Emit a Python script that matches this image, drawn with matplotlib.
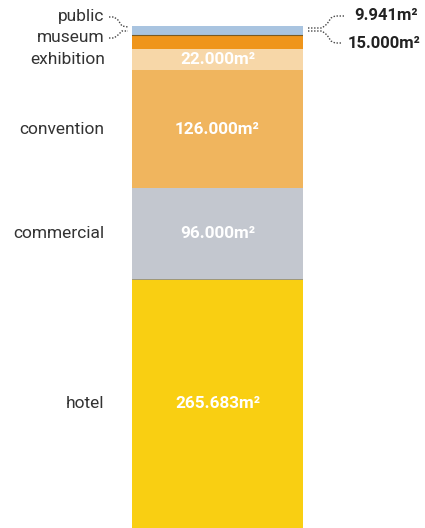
"""Stacked floor area column."""
import matplotlib.pyplot as plt

categories = ['hotel', 'commercial', 'convention', 'exhibition', 'museum', 'public']
areas = [265683, 96000, 126000, 22000, 15000, 9941]
area_labels = ['265.683m²', '96.000m²', '126.000m²', '22.000m²', '15.000m²', '9.941m²']
colors = ['#f9cf12', '#c3c7cf', '#f0b55e', '#f7d7a8', '#ef951b', '#a9c4e0']

plt.rcParams['font.family'] = ['Roboto', 'DejaVu Sans']

W, H = 425, 528
fig = plt.figure(figsize=(W / 100, H / 100), dpi=100)


def px(x, y):
    # pixel coords (from top-left) -> figure fraction
    return x / W, 1 - y / H


bar_top = 26
ax = fig.add_axes([132 / W, 0, (303 - 132) / W, (H - bar_top) / H])
total = sum(areas)
bottoms = []
b = 0
for a in areas:
    bottoms.append(b)
    b += a
ax.bar([0] * len(areas), areas, bottom=bottoms, width=1.0, color=colors,
       edgecolor='none', align='center')
# thin separators
ax.axhline(bottoms[1], color='#8e8e8e', lw=0.6)
ax.axhline(bottoms[5], color='#7a5a22', lw=0.8)
ax.set_xlim(-0.5, 0.5)
ax.set_ylim(0, total)
ax.axis('off')

# inside value labels for the big blocks
for i in range(4):
    ax.text(0, bottoms[i] + areas[i] / 2, area_labels[i], ha='center', va='center',
            color='white', fontsize=12.3, fontweight='bold')

# left category labels
text_col = '#333333'
for i in range(4):
    ax.text(-0.66, bottoms[i] + areas[i] / 2, categories[i], ha='right', va='center',
            color=text_col, fontsize=12.5, transform=ax.transData, clip_on=False)
fx, fy = px(104, 17)
fig.text(fx, fy, categories[5], ha='right', va='center', color=text_col, fontsize=12.5)
fx, fy = px(104, 37)
fig.text(fx, fy, categories[4], ha='right', va='center', color=text_col, fontsize=12.5)

# right labels for the thin blocks
fx, fy = px(418, 16)
fig.text(fx, fy, area_labels[5], ha='right', va='center', color='#222222',
         fontsize=12, fontweight='bold')
fx, fy = px(420, 43)
fig.text(fx, fy, area_labels[4], ha='right', va='center', color='#222222',
         fontsize=12, fontweight='bold')


def leader(points):
    xs, ys = zip(*[px(x, y) for x, y in points])
    fig.add_artist(plt.Line2D(xs, ys, transform=fig.transFigure, color='#444444',
                              lw=1.0, linestyle=(0, (1, 1.2))))


leader([(109, 17), (114, 17), (118, 20), (122, 26), (128, 27)])
leader([(109, 38), (114, 38), (118, 35), (122, 31), (128, 31)])
leader([(308, 28), (322, 28), (327, 24), (331, 18), (335, 16), (344, 16)])
leader([(308, 31), (322, 31), (327, 35), (331, 41), (335, 43), (342, 43)])

fig.savefig('out.png', dpi=100)
